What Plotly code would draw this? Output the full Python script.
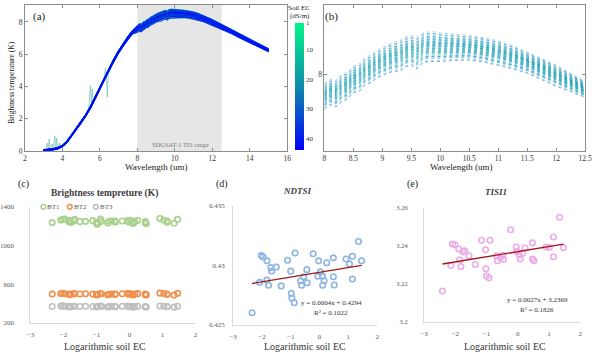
import plotly.graph_objects as go
from plotly.colors import sample_colorscale

W, H = 600, 356
def px(x): return x / W
def py(y): return 1 - y / H

SERIF = "Liberation Serif"

# ---------------- data: spectra (panels a, b) ----------------
wavelength = [3.0, 3.25, 3.5, 3.75, 4.0, 4.25, 4.5, 4.75, 5.0, 5.25, 5.5, 5.75, 6.0, 6.25,
              6.5, 6.75, 7.0, 7.25, 7.5, 7.75, 8.0, 8.1, 8.2, 8.3, 8.4, 8.5, 8.6, 8.7, 8.8,
              8.9, 9.0, 9.1, 9.2, 9.3, 9.4, 9.5, 9.6, 9.7, 9.8, 9.9, 10.0, 10.25, 10.5,
              10.75, 11.0, 11.25, 11.5, 11.75, 12.0, 12.25, 12.5, 13.0, 13.5, 14.0, 14.5, 15.0]
bt_center = [0.06, 0.08, 0.12, 0.18, 0.32, 0.58, 1.00, 1.38, 1.77, 2.22, 2.72, 3.30, 3.97, 4.55,
             5.10, 5.65, 6.15, 6.60, 7.02, 7.38, 7.58, 7.66, 7.63, 7.74, 7.78, 7.90, 7.93, 8.05, 8.10,
             8.18, 8.24, 8.29, 8.33, 8.34, 8.42, 8.45, 8.40, 8.50, 8.52, 8.52, 8.51, 8.51, 8.50,
             8.46, 8.40, 8.32, 8.22, 8.10, 7.97, 7.84, 7.71, 7.42, 7.11, 6.81, 6.52, 6.25]
bt_half_spread = [0.04, 0.05, 0.05, 0.06, 0.06, 0.07, 0.07, 0.07, 0.08, 0.08, 0.09, 0.10, 0.10, 0.10,
                  0.10, 0.10, 0.10, 0.10, 0.11, 0.12, 0.24, 0.24, 0.25, 0.26, 0.25, 0.25, 0.26, 0.26, 0.26,
                  0.26, 0.26, 0.27, 0.27, 0.29, 0.28, 0.28, 0.30, 0.28, 0.28, 0.28, 0.27, 0.25, 0.23,
                  0.23, 0.23, 0.22, 0.20, 0.20, 0.20, 0.17, 0.15, 0.14, 0.13, 0.12, 0.11, 0.10]
sample_ec = [1.1, 1.4, 1.9, 2.3, 2.8, 3.5, 4.1, 4.6, 5.4, 6.2, 6.9, 7.8, 8.7, 9.6, 10.8, 11.9,
             13.2, 14.0, 15.5, 16.9, 18.3, 19.6, 21.2, 22.7, 24.0, 25.8, 27.1, 28.6, 30.2, 31.5,
             32.9, 34.1, 35.6, 36.8, 38.2, 39.5, 40.6, 41.7, 42.8, 43.8]
sample_pos = [0.15, -0.42, 0.63, -0.08, 0.31, -0.71, 0.48, -0.25, 0.05, 0.82, -0.55, 0.22, -0.15,
              0.38, -0.93, 0.57, -0.33, 0.11, 1.0, -0.62, 0.27, -0.05, 0.71, -0.47, 0.18, -0.2,
              0.44, -0.78, 0.02, 0.35, -0.38, 0.67, -0.12, 0.52, -1.0, 0.08, -0.28, 0.88, -0.66, 0.25]
spike_wl = [3.1, 3.2, 3.25, 3.3, 3.35, 3.45, 3.5, 3.6, 3.65, 3.7, 3.75, 3.85, 3.9, 4.2, 4.25,
            4.28, 4.32, 5.4, 5.5, 5.55, 5.6, 5.65, 6.2, 6.3, 6.35, 6.4, 6.45]
spike_bt = [0.06, 0.5, 0.07, 0.75, 0.1, 0.45, 0.12, 0.95, 0.13, 0.8, 0.17, 0.5, 0.22, 0.5, 0.58,
            0.85, 0.62, 2.55, 4.05, 2.85, 3.85, 3.05, 4.4, 5.15, 4.7, 3.35, 4.85]
tis_range = [8.0, 12.5]
ec_range = [1.0, 43.8]
cbar_ticks = [1, 10, 20, 30, 40]

# ---------------- data: panels c, d, e ----------------
log_ec = [-2.34, -2.08, -2.02, -1.96, -1.82, -1.83, -1.77, -1.69, -1.66, -1.50, -1.33, -1.11,
          -1.00, -0.98, -0.96, -0.88, -0.85, -0.66, -0.62, -0.55, -0.44, -0.43, -0.22, -0.06,
          -0.03, 0.03, 0.10, 0.11, 0.16, 0.25, 0.48, 0.48, 0.51, 0.92, 1.04, 1.14, 1.14, 1.35, 1.46]
bt1 = [1236, 1262, 1269, 1272, 1259, 1246, 1236, 1252, 1269, 1246, 1249, 1256, 1236, 1219, 1229,
       1272, 1249, 1232, 1249, 1252, 1252, 1239, 1252, 1256, 1242, 1259, 1232, 1226, 1246, 1259,
       1246, 1232, 1226, 1279, 1262, 1252, 1239, 1229, 1269]
bt2 = [496, 503, 505, 500, 498, 490, 494, 502, 499, 497, 500, 496, 492, 488, 495, 503, 500, 490,
       494, 497, 498, 493, 500, 504, 495, 499, 490, 487, 497, 501, 496, 490, 488, 506, 502, 497,
       492, 486, 504]
bt3 = [368, 372, 374, 370, 369, 364, 366, 371, 370, 368, 370, 368, 365, 362, 367, 372, 369, 364,
       366, 368, 369, 365, 370, 372, 366, 369, 364, 361, 367, 370, 367, 364, 362, 373, 371, 368,
       365, 361, 371]
ndtsi = [0.4260, 0.42856, 0.43081, 0.4307, 0.43037, 0.42875, 0.42832, 0.4298, 0.42952, 0.42985,
         0.42826, 0.43042, 0.4295, 0.42763, 0.42725, 0.42684, 0.43103, 0.42867, 0.42832, 0.42903,
         0.42963, 0.42853, 0.43097, 0.42908, 0.43037, 0.42944, 0.42908, 0.42832, 0.42870, 0.43021,
         0.43062, 0.42903, 0.42834, 0.43053, 0.43010, 0.43075, 0.42884, 0.43199, 0.43037]
ndtsi_fit = [0.0004, 0.4294, 0.1022]   # slope, intercept, R^2
log_ec_e = [-2.41, -2.14, -2.09, -2.01, -1.89, -1.86, -1.82, -1.76, -1.70, -1.56, -1.36, -1.16,
            -1.03, -1.02, -1.00, -0.92, -0.89, -0.67, -0.65, -0.56, -0.48, -0.46, -0.23, -0.05,
            -0.03, 0.05, 0.08, 0.16, 0.23, 0.47, 0.47, 0.52, 0.91, 1.01, 1.14, 1.14, 1.34, 1.46]
tisi1 = [3.2162, 3.2296, 3.2409, 3.2405, 3.2383, 3.2326, 3.2291, 3.2369, 3.2374, 3.2347, 3.2301,
         3.2429, 3.2379, 3.2279, 3.2241, 3.2231, 3.2429, 3.2347, 3.2321, 3.2337, 3.2350, 3.2328,
         3.2484, 3.2393, 3.2369, 3.2352, 3.2330, 3.2361, 3.2388, 3.2415, 3.2330, 3.2321, 3.2393,
         3.2391, 3.2446, 3.2342, 3.2550, 3.2390]
tisi1_fit = [0.0027, 3.2369, 0.1826]

# ---------------- figure ----------------
fig = go.Figure()
ec_scale = [[0, "#0000ff"], [0.5, "#0f8caa"], [1, "#00f58a"]]

def ec_color(ec):
    t = (ec - ec_range[0]) / (ec_range[1] - ec_range[0])
    return sample_colorscale(ec_scale, [1 - t])[0]

order = sorted(range(len(sample_ec)), key=lambda i: sample_ec[i])
order_b = sorted(range(len(sample_ec)), key=lambda i: sample_pos[i])

# panel (a): full spectra
fig.add_trace(go.Scatter(x=spike_wl, y=spike_bt, mode="lines", xaxis="x", yaxis="y",
                         line=dict(color="#5fb5a5", width=0.6), hoverinfo="skip", showlegend=False))
for i in order:
    ys = [c + sample_pos[i] * h for c, h in zip(bt_center, bt_half_spread)]
    fig.add_trace(go.Scatter(x=wavelength, y=ys, mode="lines", xaxis="x", yaxis="y",
                             line=dict(color=ec_color(sample_ec[i]), width=0.9),
                             hoverinfo="skip", showlegend=False))

# panel (b): TIS range zoom
for i in order_b:
    pts = [(w, c + sample_pos[i] * h) for w, c, h in zip(wavelength, bt_center, bt_half_spread)
           if tis_range[0] <= w <= tis_range[1]]
    fig.add_trace(go.Scatter(x=[p[0] for p in pts], y=[p[1] for p in pts], mode="lines",
                             xaxis="x2", yaxis="y2", opacity=0.75,
                             line=dict(color=ec_color(sample_ec[i]), width=0.6, dash="dot"),
                             hoverinfo="skip", showlegend=False))

# colorbar
fig.add_trace(go.Scatter(
    x=[None], y=[None], mode="markers", xaxis="x", yaxis="y", showlegend=False, hoverinfo="skip",
    marker=dict(color=[-e for e in sample_ec], colorscale=ec_scale, cmin=-ec_range[1], cmax=-ec_range[0],
                showscale=True,
                colorbar=dict(x=px(295), xanchor="left", y=py(19.3), yanchor="top",
                              len=(150 - 19.3) / H, lenmode="fraction", thickness=9,
                              thicknessmode="pixels", outlinewidth=0, xpad=0, ypad=0,
                              tickvals=[-t for t in cbar_ticks], ticktext=[str(t) for t in cbar_ticks],
                              ticks="", ticklabelposition="outside",
                              tickfont=dict(family=SERIF, size=7, color="#333333")))))

# panel (c)
bt_colors = ["#a9d18e", "#f0904e", "#bfbfbf"]
for vals, col in zip([bt1, bt2, bt3], bt_colors):
    fig.add_trace(go.Scatter(x=log_ec, y=vals, mode="markers", xaxis="x3", yaxis="y3",
                             marker=dict(symbol="circle-open", size=5.5, color=col, line=dict(width=1.6)),
                             hoverinfo="skip", showlegend=False))

# panel (d)
fig.add_trace(go.Scatter(x=log_ec, y=ndtsi, mode="markers", xaxis="x4", yaxis="y4",
                         marker=dict(symbol="circle-open", size=5.5, color="#8db4e2", line=dict(width=1.6)),
                         hoverinfo="skip", showlegend=False))
xd = [min(log_ec), max(log_ec)]
fig.add_trace(go.Scatter(x=xd, y=[ndtsi_fit[0] * v + ndtsi_fit[1] for v in xd], mode="lines",
                         xaxis="x4", yaxis="y4", line=dict(color="#a01818", width=1.3),
                         hoverinfo="skip", showlegend=False))

# panel (e)
fig.add_trace(go.Scatter(x=log_ec_e, y=tisi1, mode="markers", xaxis="x5", yaxis="y5",
                         marker=dict(symbol="circle-open", size=5.5, color="#ecabe8", line=dict(width=1.6)),
                         hoverinfo="skip", showlegend=False))
xe = [min(log_ec_e), max(log_ec_e)]
fig.add_trace(go.Scatter(x=xe, y=[tisi1_fit[0] * v + tisi1_fit[1] for v in xe], mode="lines",
                         xaxis="x5", yaxis="y5", line=dict(color="#a01818", width=1.3),
                         hoverinfo="skip", showlegend=False))

# ---------------- axes ----------------
def mat_axis(domain, rng, tickvals, anchor, standoff, ticktext=None):
    d = dict(domain=domain, range=rng, tickvals=tickvals, anchor=anchor, showline=True,
             mirror="ticks", linecolor="#8c8c8c", linewidth=0.8, ticks="inside", ticklen=3,
             tickcolor="#8c8c8c", tickwidth=0.8, showgrid=False, zeroline=False,
             ticklabelstandoff=standoff,
             tickfont=dict(family=SERIF, size=7.5, color="#333333"))
    if ticktext is not None:
        d["ticktext"] = ticktext
    return d

def xl_axis(domain, rng, tickvals, anchor, standoff, ticktext=None, size=7):
    d = dict(domain=domain, range=rng, tickvals=tickvals, anchor=anchor, showline=True,
             mirror=False, linecolor="#d9d9d9", linewidth=1, ticks="", showgrid=False,
             zeroline=False, ticklabelstandoff=standoff,
             tickfont=dict(family=SERIF, size=size, color="#595959"))
    if ticktext is not None:
        d["ticktext"] = ticktext
    return d

ya_dom = [py(151), py(1)]
fig.update_layout(
    xaxis=mat_axis([px(18.3), px(287)], [2, 16], [2, 4, 6, 8, 10, 12, 14, 16], "y", 0),
    yaxis=mat_axis(ya_dom, [0, 9.05], [0, 2, 4, 6, 8], "x", 0),
    xaxis2=mat_axis([px(325), px(592)], [8, 12.5],
                    [8, 8.5, 9, 9.5, 10, 10.5, 11, 11.5, 12, 12.5], "y2", 0),
    yaxis2=mat_axis(ya_dom, [6.54, 9.31], [8], "x2", 0),
    xaxis3=xl_axis([px(24), px(193)], [-3, 2], [-3, -2, -1, 0, 1, 2], "y3", 5),
    yaxis3=xl_axis([py(327), py(208)], [200, 1400], [200, 600, 1000, 1400], "x3", 14),
    xaxis4=xl_axis([px(231.5), px(379)], [-3, 2], [-3, -2, -1, 0, 1, 2], "y4", 5),
    yaxis4=xl_axis([py(329), py(207)], [0.425, 0.435], [0.425, 0.43, 0.435], "x4", 6,
                   ticktext=["0.425", "0.43", "0.435"]),
    xaxis5=xl_axis([px(427), px(587)], [-3, 2], [-3, -2, -1, 0, 1, 2], "y5", 5),
    yaxis5=xl_axis([py(326), py(209)], [3.2, 3.26], [3.2, 3.22, 3.24, 3.26], "x5", 14,
                   ticktext=["3.2", "3.22", "3.24", "3.26"], size=6.5),
)

# shaded TIS range
fig.add_shape(type="rect", xref="x", yref="y domain", x0=tis_range[0], x1=tis_range[1],
              y0=0, y1=1, fillcolor="#e6e6e6", line=dict(width=0), layer="below")

# legend (c) built from shapes + text
legend_items = [("BT1", bt_colors[0], 37.3, 48), ("BT2", bt_colors[1], 64.3, 75),
                ("BT3", bt_colors[2], 91.0, 102)]
annotations = []
for name, col, cx, tx in legend_items:
    r = 2.4
    fig.add_shape(type="circle", xref="paper", yref="paper", x0=px(cx - r), x1=px(cx + r),
                  y0=py(208 + r), y1=py(208 - r), line=dict(color=col, width=1.5),
                  fillcolor="rgba(0,0,0,0)")
    annotations.append(dict(x=px(tx), y=py(208), text=name, font=dict(size=7, color="#595959")))

def ann(x, y, text, size, color="#222222", angle=0):
    annotations.append(dict(x=px(x), y=py(y), text=text, textangle=angle,
                            font=dict(size=size, color=color)))

ann(33.5, 13, "(a)", 11)
ann(332, 13, "(b)", 11)
ann(5, 80, "Brightness temperature (K)", 7.5, angle=-90)
ann(153, 167.5, "Wavelength (um)", 9)
ann(465, 167.5, "Wavelength (um)", 9)
ann(178, 144, "SDGSAT-1 TIS range", 6.5, color="#777777")
ann(299, 4.5, "Soil EC", 7)
ann(299.5, 12.5, "(dS/m)", 7)

ann(17, 185, "(c)", 10)
ann(220.5, 185, "(d)", 10)
ann(415.5, 185, "(e)", 10)
ann(99.5, 194, "<b>Brightness tempreture (K)</b>", 9.5, color="#404040")
ann(297, 192, "<b><i>NDTSI</i></b>", 9, color="#404040")
ann(501, 192.5, "<b><i>TISI1</i></b>", 9, color="#404040")
ann(100, 351, "Logarithmic soil EC", 10, color="#333333")
ann(305, 351, "Logarithmic soil EC", 10, color="#333333")
ann(510, 351, "Logarithmic soil EC", 10, color="#333333")
ann(332, 307, "y = %.4fx + %.4f" % (ndtsi_fit[0], ndtsi_fit[1]), 7, color="#333333")
ann(332, 317.5, "R² = %.4f" % ndtsi_fit[2], 7, color="#333333")
ann(543, 304, "y = %.4fx + %.4f" % (tisi1_fit[0], tisi1_fit[1]), 7, color="#333333")
ann(543, 314, "R² = %.4f" % tisi1_fit[2], 7, color="#333333")

for a in annotations:
    a.update(xref="paper", yref="paper", showarrow=False, xanchor="center", yanchor="middle")
    a["font"]["family"] = SERIF

fig.update_layout(width=W, height=H, margin=dict(l=0, r=0, t=0, b=0),
                  paper_bgcolor="white", plot_bgcolor="rgba(0,0,0,0)", showlegend=False,
                  annotations=annotations)

fig.write_html("out.html", config={"displayModeBar": False},
               post_script="document.body.style.margin='0px';")
